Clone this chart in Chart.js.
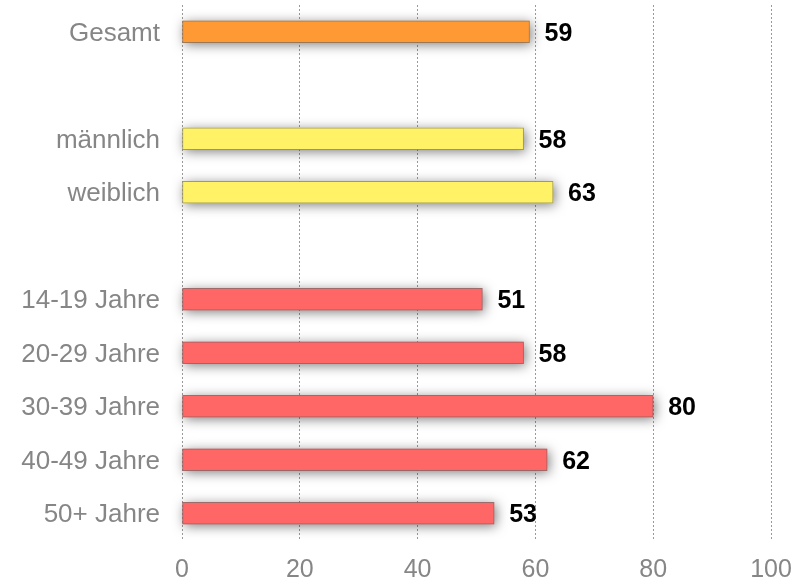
<!DOCTYPE html>
<html>
<head>
<meta charset="utf-8">
<script src="https://cdn.jsdelivr.net/npm/chart.js@4"></script>
<style>
  html, body { margin: 0; padding: 0; background: #fff; }
  #wrap { width: 805px; height: 582px; }
</style>
</head>
<body>
<div id="wrap"><canvas id="chart"></canvas></div>
<script>
    // categories (empty strings are the gaps between groups)
    var categories = ['Gesamt', '', 'männlich', 'weiblich', '', '14-19 Jahre', '20-29 Jahre', '30-39 Jahre', '40-49 Jahre', '50+ Jahre'];
    var values = [59, null, 58, 63, null, 51, 58, 80, 62, 53];
    var xTicks = [0, 20, 40, 60, 80, 100];

    var barColors = ['#FF9933', null, '#FFF266', '#FFF266', null, '#FF6666', '#FF6666', '#FF6666', '#FF6666', '#FF6666'];

    // soft drop shadow behind each bar
    var barShadow = {
        id: 'barShadow',
        beforeDatasetsDraw: function(chart) {
            var ctx = chart.ctx;
            chart.getDatasetMeta(0).data.forEach(function(bar, i) {
                if (values[i] === null) return;
                var p = bar.getProps(['x', 'y', 'base', 'height'], true);
                ctx.save();
                ctx.shadowColor = 'rgba(0,0,0,0.5)';
                ctx.shadowBlur = 12;
                ctx.shadowOffsetX = 2;
                ctx.shadowOffsetY = 2;
                ctx.fillStyle = barColors[i];
                ctx.fillRect(p.base, p.y - p.height / 2, p.x - p.base, p.height);
                ctx.restore();
            });
        }
    };

    var valueLabels = {
        id: 'valueLabels',
        afterDraw: function(chart) {
            var ctx = chart.ctx;
            ctx.save();
            ctx.font = 'bold 25px "Liberation Sans", Arial, sans-serif';
            ctx.fillStyle = '#000';
            ctx.textAlign = 'left';
            ctx.textBaseline = 'middle';
            chart.getDatasetMeta(0).data.forEach(function(bar, i) {
                if (values[i] === null) return;
                ctx.fillText(values[i], bar.x + 15, bar.y + 2);
            });
            ctx.restore();
        }
    };

    new Chart(document.getElementById('chart'), {
        type: 'bar',
        data: {
            labels: categories,
            datasets: [{
                data: values,
                backgroundColor: barColors,
                borderColor: 'rgba(90,90,90,0.55)',
                borderWidth: 1,
                borderSkipped: false,
                barThickness: 22
            }]
        },
        options: {
            indexAxis: 'y',
            responsive: true,
            maintainAspectRatio: false,
            animation: false,
            layout: { padding: { top: 5, right: 34, left: 0, bottom: 0 } },
            plugins: {
                legend: { display: false },
                tooltip: { enabled: false }
            },
            scales: {
                x: {
                    min: 0,
                    max: 100,
                    afterBuildTicks: function(scale) {
                        scale.ticks = xTicks.map(function(v) { return { value: v }; });
                    },
                    afterFit: function(scale) {
                        scale.height = 42;
                        scale.paddingLeft = 0;
                        scale.paddingRight = 0;
                    },
                    grid: {
                        color: '#9a9a9a',
                        lineWidth: 1,
                        drawTicks: false
                    },
                    border: { display: false, dash: [2, 2] },
                    ticks: {
                        color: '#868686',
                        padding: 15,
                        font: { family: '"Liberation Sans", Arial, sans-serif', size: 25 }
                    }
                },
                y: {
                    afterFit: function(scale) {
                        scale.width = 182;
                        scale.paddingTop = 0;
                        scale.paddingBottom = 0;
                    },
                    grid: { display: false, drawTicks: false },
                    border: { display: false },
                    ticks: {
                        color: '#868686',
                        padding: 22,
                        labelOffset: 2,
                        autoSkip: false,
                        font: { family: '"Liberation Sans", Arial, sans-serif', size: 26 }
                    }
                }
            }
        },
        plugins: [barShadow, valueLabels]
    });
</script>
</body>
</html>
